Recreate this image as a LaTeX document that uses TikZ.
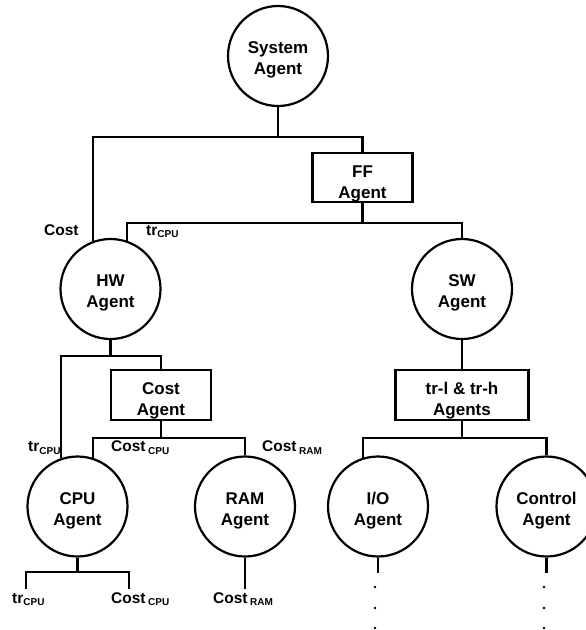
\documentclass[tikz,border=0pt]{standalone}
\usepackage{fontspec}
\setmainfont{Liberation Sans}
\usetikzlibrary{calc}

% lowered small tag used in the flow labels
\newcommand{\subtag}[1]{\raisebox{-2.5pt}{\fontsize{10}{12}\selectfont #1}}

\tikzset{
  wire/.style={line width=2.2pt},
  agent/.style={circle, draw, line width=2.2pt, minimum size=100pt, inner sep=0pt},
  agentbox/.style={rectangle, draw, line width=2.2pt, minimum height=50pt, inner sep=0pt},
  atext/.style={align=center, inner sep=0pt, font=\bfseries\fontsize{17}{21}\selectfont},
  flow/.style={inner sep=0pt, font=\bfseries\fontsize{15.5}{18}\selectfont},
}

\begin{document}
\begin{tikzpicture}[x=1pt, y=-1pt]
\useasboundingbox (0,0) rectangle (586,630);

% agents
\node[agent, label={[atext, yshift=-4pt]center:System\\Agent}] (sys) at (278,56) {};
\node[agentbox, minimum width=100pt, minimum height=49pt,
      label={[atext, yshift=-6pt]center:FF\\Agent}] (ff) at (362.5,177.5) {};
\node[agent, label={[atext, yshift=-4pt]center:HW\\Agent}] (hw) at (110.5,289) {};
\node[agent, label={[atext, yshift=-4pt]center:SW\\Agent}] (sw) at (462,289) {};
\node[agentbox, minimum width=100pt,
      label={[atext, yshift=-6pt]center:Cost\\Agent}] (cb) at (161,395) {};
\node[agentbox, minimum width=133pt,
      label={[atext, yshift=-6pt]center:tr-l \& tr-h\\Agents}] (tr) at (462,395) {};
\node[agent, label={[atext, yshift=-4pt]center:CPU\\Agent}] (cpu) at (77.5,506.5) {};
\node[agent, label={[atext, yshift=-4pt]center:RAM\\Agent}] (ram) at (245,506.5) {};
\node[agent, label={[atext, yshift=-4pt]center:I/O\\Agent}] (io) at (378,506.5) {};
\node[agent, label={[atext, yshift=-4pt]center:Control\\Agent}] (ctrl) at (546.5,506.5) {};

% junction points and free ends
\coordinate (sysj) at (278,137);
\coordinate (ffj) at (362.5,223);
\coordinate (hwj) at (110.5,356);
\coordinate (cbj) at (161,438);
\coordinate (trj) at (462,438);
\coordinate (cpuj) at (77.5,572);
\coordinate (trleaf) at (26,589);
\coordinate (costleaf) at (129,589);
\coordinate (ramleaf) at (245,589);
\coordinate (ioleaf) at (378,573);
\coordinate (ctrlleaf) at (546.5,573);

% connectors
\draw[wire] (sys.south) -- (sysj);
\draw[wire] (hw.110) |- (sysj) -| (ff.north);
\draw[wire] (ff.south) -- (ffj);
\draw[wire] (hw.71) |- (ffj) -| (sw.north);
\draw[wire] (hw.south) -- (hwj);
\draw[wire] (cpu.109) |- (hwj) -| (cb.north);
\draw[wire] (cb.south) -- (cbj);
\draw[wire] (cpu.72) |- (cbj) -| (ram.north);
\draw[wire] (sw.south) -- (tr.north);
\draw[wire] (tr.south) -- (trj);
\draw[wire] (io.107) |- (trj) -| (ctrl.north);
\draw[wire] (cpu.south) -- (cpuj);
\draw[wire] (trleaf) |- (cpuj) -| (costleaf);
\draw[wire] (ram.south) -- (ramleaf);
\draw[wire] (io.south) -- (ioleaf);
\draw[wire] (ctrl.south) -- (ctrlleaf);

% continuation dots
\foreach \yy in {587,608,628} {
  \fill (375,\yy) circle (1.4pt);
  \fill (544,\yy) circle (1.4pt);
}

% flow labels
\node[flow, anchor=base west] (lcost) at (44,235) {Cost};
\node[flow, anchor=base west] (ltra) at (146,235) {tr\subtag{CPU}};
\node[flow, anchor=base west] (ltrb) at (28,451.5) {tr\subtag{CPU}};
\node[flow, anchor=base west] (lcpua) at (111,451.5) {Cost\,\subtag{CPU}};
\node[flow, anchor=base west] (lrama) at (262,451.5) {Cost\,\subtag{RAM}};
\node[flow, anchor=base west] (ltrc) at (12,603) {tr\subtag{CPU}};
\node[flow, anchor=base west] (lcpub) at (111,603) {Cost\,\subtag{CPU}};
\node[flow, anchor=base west] (lramb) at (213,603) {Cost\,\subtag{RAM}};
\end{tikzpicture}
\end{document}
